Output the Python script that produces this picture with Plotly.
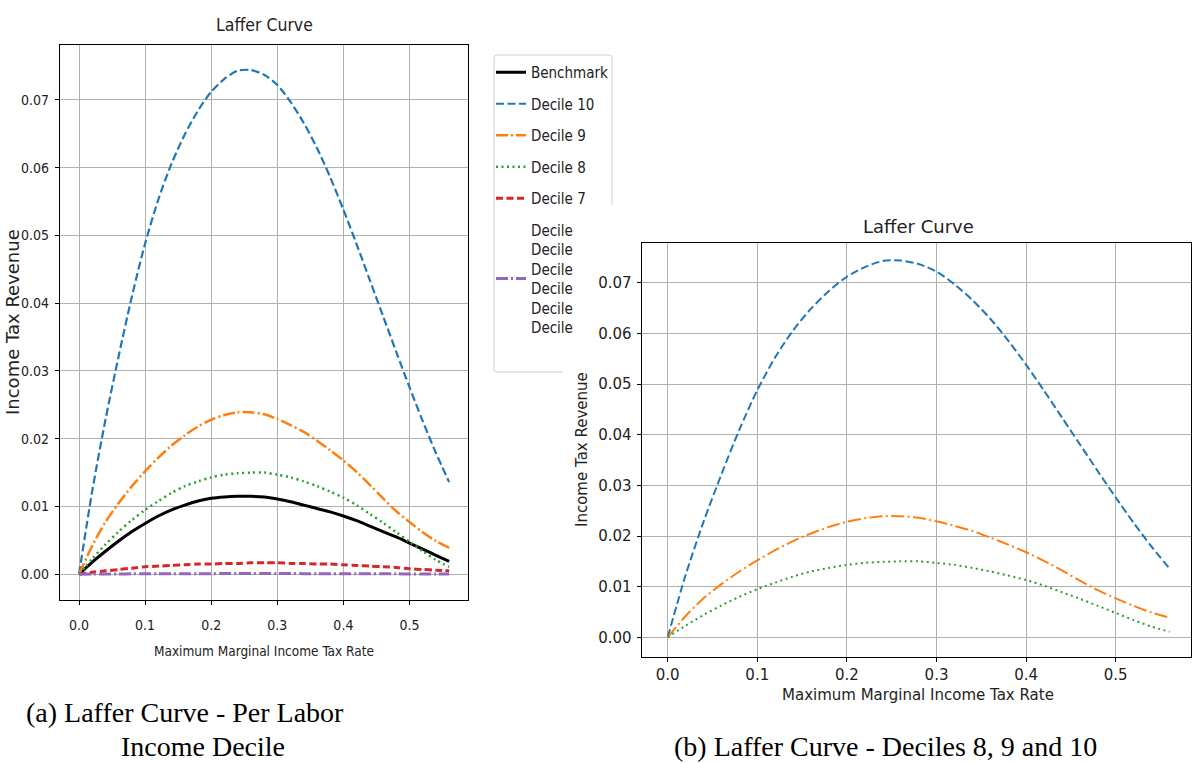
import plotly.graph_objects as go

W, H = 1194, 763

# ---------------- data ----------------
rate = [0.00, 0.02, 0.04, 0.06, 0.08, 0.10, 0.12, 0.14, 0.16, 0.18, 0.20,
        0.22, 0.24, 0.26, 0.28, 0.30, 0.32, 0.34, 0.36, 0.38, 0.40, 0.42,
        0.44, 0.46, 0.48, 0.50, 0.52, 0.54, 0.56]

benchmark = [0.0, 0.0018, 0.0034, 0.0049, 0.0063, 0.0075, 0.0086, 0.0095,
             0.0102, 0.0108, 0.0112, 0.0114, 0.0115, 0.0115, 0.0114, 0.0111,
             0.0107, 0.0102, 0.0097, 0.0092, 0.0086, 0.0079, 0.0071, 0.0063,
             0.0055, 0.0046, 0.0037, 0.0028, 0.0019]

decile_10 = [0.0, 0.0123, 0.0228, 0.0322, 0.0410, 0.0488, 0.0553, 0.0606,
             0.0649, 0.0684, 0.0712, 0.0731, 0.0743, 0.0744, 0.0737, 0.0722,
             0.0697, 0.0666, 0.0629, 0.0586, 0.0538, 0.0487, 0.0434, 0.0381,
             0.0328, 0.0276, 0.0226, 0.0179, 0.0136]

decile_9 = [0.0, 0.0042, 0.0077, 0.0105, 0.0130, 0.0152, 0.0172, 0.0190,
            0.0205, 0.0218, 0.0228, 0.0235, 0.0239, 0.0239, 0.0236, 0.0229,
            0.0220, 0.0210, 0.0197, 0.0183, 0.0168, 0.0151, 0.0132, 0.0112,
            0.0093, 0.0077, 0.0062, 0.0049, 0.0039]

decile_8 = [0.0, 0.0023, 0.0044, 0.0063, 0.0080, 0.0095, 0.0108, 0.0120,
            0.0130, 0.0137, 0.0143, 0.0147, 0.0149, 0.0150, 0.0150, 0.0147,
            0.0143, 0.0137, 0.0130, 0.0122, 0.0113, 0.0102, 0.0089, 0.0076,
            0.0062, 0.0048, 0.0034, 0.0021, 0.0011]

decile_7 = [0.0, 0.0003, 0.0005, 0.0007, 0.0009, 0.0011, 0.0012, 0.0013,
            0.0014, 0.0015, 0.0015, 0.0016, 0.0016, 0.0017, 0.0017, 0.0017,
            0.0016, 0.0016, 0.0015, 0.0015, 0.0014, 0.0013, 0.0012, 0.0011,
            0.0010, 0.0008, 0.0007, 0.0006, 0.0005]

deciles_1_6 = [0.0, 0.00002, 0.00004, 0.00005, 0.00006, 0.00007, 0.00008,
               0.00008, 0.00009, 0.00009, 0.00009, 0.00010, 0.00010, 0.00010,
               0.00010, 0.00010, 0.00010, 0.00009, 0.00009, 0.00009, 0.00008,
               0.00008, 0.00007, 0.00007, 0.00006, 0.00005, 0.00005, 0.00004,
               0.00003]

x_tick_vals = [0.0, 0.1, 0.2, 0.3, 0.4, 0.5]
x_tick_text = ["0.0", "0.1", "0.2", "0.3", "0.4", "0.5"]
y_tick_vals = [0.00, 0.01, 0.02, 0.03, 0.04, 0.05, 0.06, 0.07]
y_tick_text = ["0.00", "0.01", "0.02", "0.03", "0.04", "0.05", "0.06", "0.07"]

multi_label = "<br>".join(["Decile"] * 6)

# ---------------- styling ----------------
NARROW = "DejaVu Sans Condensed, Liberation Sans Narrow, Arial Narrow, sans-serif"
DEJAVU = "DejaVu Sans, sans-serif"
SERIF = "Liberation Serif, Times New Roman, serif"
GRID = "#b0b0b0"

def px(x):
    return x / W

def py(y):
    return 1 - y / H

fig = go.Figure()

left_specs = [
    ("Benchmark", benchmark, "#000000", "solid", 3.0),
    ("Decile 10", decile_10, "#1f77b4", "8px,3.5px", 2.2),
    ("Decile 9", decile_9, "#ff7f0e", "12px,3px,2px,3px", 2.5),
    ("Decile 8", decile_8, "#2ca02c", "2px,3.5px", 2.5),
    ("Decile 7", decile_7, "#d62728", "7px,3.5px", 3.0),
    (multi_label, deciles_1_6, "#9467bd", "12px,3px,2px,3px", 3.0),
]
for i, (name, vals, col, dash, w) in enumerate(left_specs):
    fig.add_trace(go.Scatter(
        x=rate, y=vals, mode="lines", name=name, legendgroup=f"g{i}",
        line=dict(color=col, dash=dash, width=w, shape="spline", smoothing=0.8),
        xaxis="x", yaxis="y", showlegend=True))

right_specs = [
    ("Decile 10", decile_10, "#1f77b4", "8px,3.5px"),
    ("Decile 9", decile_9, "#ff7f0e", "13px,3.4px,2px,3.4px"),
    ("Decile 8", decile_8, "#2ca02c", "2px,3.5px"),
]
for name, vals, col, dash in right_specs:
    fig.add_trace(go.Scatter(
        x=rate, y=vals, mode="lines", name=name,
        line=dict(color=col, dash=dash, width=2, shape="spline", smoothing=0.8),
        xaxis="x2", yaxis="y2", showlegend=False))

axis_common = dict(
    showgrid=True, gridcolor=GRID, gridwidth=1, zeroline=False,
    showline=True, linecolor="black", linewidth=1.2, mirror=True,
    ticks="outside", tickcolor="black", ticklen=4,
)

fig.update_layout(
    width=W, height=H,
    margin=dict(l=0, r=0, t=0, b=0),
    paper_bgcolor="white", plot_bgcolor="white",
    xaxis=dict(domain=[px(60), px(468.3)], range=[-0.0288, 0.589],
               anchor="y", tickvals=x_tick_vals, ticktext=x_tick_text,
               tickfont=dict(family=NARROW, size=14, color="#222"),
               ticklabelstandoff=8, **axis_common),
    yaxis=dict(domain=[py(600), py(45)], range=[-0.0038, 0.0781],
               anchor="x", tickvals=y_tick_vals, ticktext=y_tick_text,
               tickfont=dict(family=NARROW, size=14, color="#222"),
               ticklabelstandoff=3, **axis_common),
    xaxis2=dict(domain=[px(641.7), px(1191)], range=[-0.029, 0.584],
                anchor="y2", tickvals=x_tick_vals, ticktext=x_tick_text,
                tickfont=dict(family=DEJAVU, size=15, color="#222"),
                ticklabelstandoff=0, **axis_common),
    yaxis2=dict(domain=[py(656.7), py(243.3)], range=[-0.00383, 0.0778],
                anchor="x2", tickvals=y_tick_vals, ticktext=y_tick_text,
                tickfont=dict(family=DEJAVU, size=15, color="#222"),
                ticklabelstandoff=2, **axis_common),
    legend=dict(x=px(491), y=py(56), xanchor="left", yanchor="top",
                bgcolor="rgba(0,0,0,0)", borderwidth=0,
                font=dict(family=NARROW, size=15, color="#222"),
                tracegroupgap=9, itemwidth=30),
    showlegend=True,
)

# legend frame (partly hidden behind right panel in the reference)
r = 3
RX = 612
frame = (f"M {px(563)},{py(372)} L {px(494 + r)},{py(372)} "
         f"Q {px(494)},{py(372)} {px(494)},{py(372 - r)} "
         f"L {px(494)},{py(55 + r)} Q {px(494)},{py(55)} {px(494 + r)},{py(55)} "
         f"L {px(RX - r)},{py(55)} Q {px(RX)},{py(55)} {px(RX)},{py(55 + r)} "
         f"L {px(RX)},{py(205)}")
fig.add_shape(type="path", path=frame, xref="paper", yref="paper",
              line=dict(color="#d0d0d0", width=1))

ann = []
def text(t, x, y, fam, size, angle=0, color="#222"):
    ann.append(dict(text=t, x=px(x), y=py(y), xref="paper", yref="paper",
                    xanchor="center", yanchor="middle", showarrow=False,
                    textangle=angle, font=dict(family=fam, size=size, color=color)))

text("Laffer Curve", 264, 25, NARROW, 17.5)
text("Maximum Marginal Income Tax Rate", 264, 651, NARROW, 13.5)
text("Income Tax Revenue", 12, 322, DEJAVU, 18, angle=-90)

text("Laffer Curve", 918, 227, DEJAVU, 18)
text("Maximum Marginal Income Tax Rate", 918, 695, DEJAVU, 15)
text("Income Tax Revenue", 582, 450, DEJAVU, 15, angle=-90)

text("(a) Laffer Curve - Per Labor", 185, 712, SERIF, 28, color="black")
text("Income Decile", 203, 746, SERIF, 28, color="black")
text("(b) Laffer Curve - Deciles 8, 9 and 10", 885, 746, SERIF, 28, color="black")

fig.update_layout(annotations=ann)

fig.write_html("out.html",
               config={"displayModeBar": False},
               post_script="document.body.style.margin='0';"
                           "document.body.style.overflow='hidden';")
